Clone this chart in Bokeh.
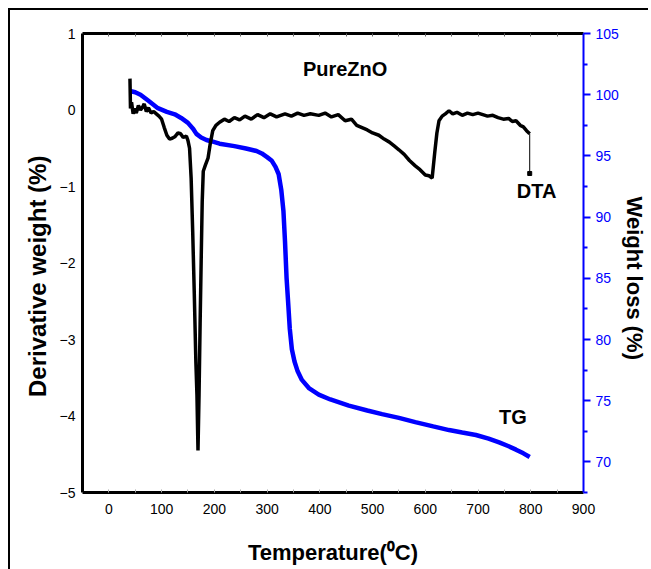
from bokeh.plotting import figure
from bokeh.models import (Range1d, LinearAxis, FixedTicker, Label)
from bokeh.embed import file_html
from bokeh.resources import INLINE

# ---- data ----
dta_temp = [40, 41, 43, 46, 49, 52, 56, 60, 64, 67, 71, 75, 80, 85, 90, 95, 100,
            105, 110, 115, 120, 125, 131, 136, 141, 147, 150, 153, 156, 159, 162,
            165, 167, 169, 171, 173, 175, 177, 179, 183, 188, 192, 197, 203, 210,
            219, 228, 238, 248, 258, 270, 282, 294, 306, 318, 334, 346, 358, 370,
            382, 398, 410, 422, 435, 448, 460, 470, 480, 490, 500, 512, 522, 532,
            541, 550, 560, 570, 581, 590, 600, 607, 613, 618, 622, 626, 632, 638,
            645, 652, 660, 670, 680, 690, 700, 709, 718, 728, 738, 748, 758, 765,
            772, 780, 786, 792, 798]
dta_val = [0.41, 0.02, 0.10, -0.05, 0.02, -0.04, 0.06, 0.0, 0.04, 0.08, -0.02,
           0.03, -0.04, -0.02, -0.05, -0.08, -0.12, -0.23, -0.33, -0.38, -0.37,
           -0.35, -0.30, -0.31, -0.36, -0.34, -0.40, -0.50, -0.89, -1.6, -2.41,
           -3.3, -3.72, -4.45, -3.72, -2.8, -1.98, -1.2, -0.80, -0.72, -0.63,
           -0.45, -0.27, -0.20, -0.16, -0.12, -0.15, -0.10, -0.13, -0.08, -0.12,
           -0.06, -0.10, -0.05, -0.09, -0.05, -0.08, -0.04, -0.07, -0.05, -0.07,
           -0.04, -0.09, -0.06, -0.14, -0.12, -0.20, -0.23, -0.26, -0.30, -0.33,
           -0.38, -0.42, -0.47, -0.52, -0.58, -0.66, -0.73, -0.78, -0.85, -0.86,
           -0.89, -0.55, -0.30, -0.14, -0.08, -0.05, -0.01, -0.05, -0.03, -0.07,
           -0.04, -0.06, -0.04, -0.06, -0.08, -0.07, -0.10, -0.12, -0.11, -0.15,
           -0.14, -0.20, -0.22, -0.27, -0.31]
dta_tail_temp = [798, 798]
dta_tail_val = [-0.31, -0.83]

tg_temp = [40, 50, 60, 75, 93, 110, 125, 137, 150, 160, 166, 175, 185, 194, 210,
           238, 260, 280, 290, 300, 309, 316, 322, 327, 331, 334, 337, 340, 343,
           347, 352, 358, 366, 380, 398, 420, 455, 490, 518, 550, 581, 615, 645,
           670, 696, 720, 740, 757, 772, 786, 798]
tg_val = [100.3, 100.2, 100.0, 99.5, 98.9, 98.6, 98.4, 98.1, 97.7, 97.2, 96.8,
          96.5, 96.3, 96.2, 96.0, 95.8, 95.6, 95.4, 95.2, 94.9, 94.6, 94.1, 93.5,
          92.2, 90.5, 88.0, 85.0, 83.0, 80.9, 79.2, 78.2, 77.4, 76.7, 76.0, 75.5,
          75.1, 74.6, 74.2, 73.9, 73.6, 73.25, 72.9, 72.6, 72.4, 72.2, 71.9, 71.6,
          71.3, 71.0, 70.7, 70.4]

x_ticks = [0, 100, 200, 300, 400, 500, 600, 700, 800, 900]
left_ticks = [-5, -4, -3, -2, -1, 0, 1]
right_ticks = [70, 75, 80, 85, 90, 95, 100, 105]

FONT = "Liberation Sans"
BLUE = "#0000ff"
NBSP = "\u00a0"

p = figure(width=640, height=561, output_backend="svg", toolbar_location=None,
           x_range=Range1d(-50, 900), y_range=Range1d(-5, 1),
           min_border_left=72, min_border_right=67, min_border_top=23,
           min_border_bottom=79)
p.margin = (8, 0, 0, 8)
p.styles = {"border-left": "2px solid black", "border-top": "2px solid black"}
p.xgrid.visible = False
p.ygrid.visible = False
p.outline_line_color = None

# bottom axis
xa = p.xaxis[0]
xa.ticker = FixedTicker(ticks=x_ticks, minor_ticks=[v + 50 for v in [-100] + x_ticks])
xa.axis_line_width = 3
xa.axis_line_color = "black"
xa.major_tick_out = 0
xa.major_tick_in = 3
xa.minor_tick_out = 0
xa.minor_tick_in = 3
xa.major_tick_line_color = "#aaaaaa"
xa.minor_tick_line_color = "#aaaaaa"
xa.major_label_text_font = FONT
xa.major_label_text_font_size = "14px"
xa.major_label_text_color = "black"
xa.major_label_standoff = 11
xa.axis_label = "Temperature(\u2070C)"
xa.axis_label_text_font = FONT
xa.axis_label_text_font_style = "bold"
xa.axis_label_text_font_size = "22px"
xa.axis_label_text_color = "black"
xa.axis_label_standoff = 23

# left axis (trailing nbsp shifts the title down a little)
ya = p.yaxis[0]
ya.ticker = FixedTicker(ticks=left_ticks)
ya.axis_line_width = 3
ya.axis_line_color = "black"
ya.major_tick_out = 0
ya.major_tick_in = 0
ya.minor_tick_out = 0
ya.minor_tick_in = 0
ya.major_label_text_font = FONT
ya.major_label_text_font_size = "14px"
ya.major_label_text_color = "black"
ya.major_label_standoff = 7
ya.axis_label = "Derivative weight (%)" + NBSP * 4
ya.axis_label_text_font = FONT
ya.axis_label_text_font_style = "bold"
ya.axis_label_text_font_size = "24px"
ya.axis_label_text_color = "black"
ya.axis_label_standoff = 6

# top border axis (no labels, only small inward ticks)
ta = LinearAxis(ticker=FixedTicker(ticks=[], minor_ticks=list(range(-50, 901, 50))))
ta.axis_line_width = 3
ta.axis_line_color = "black"
ta.major_tick_out = 0
ta.major_tick_in = 0
ta.minor_tick_out = 0
ta.minor_tick_in = 3
ta.minor_tick_line_color = "#666666"
p.add_layout(ta, "above")

# right axis (leading nbsp shifts the title down a little)
p.extra_y_ranges = {"tg": Range1d(67.5, 105)}
ra = LinearAxis(y_range_name="tg",
                ticker=FixedTicker(ticks=right_ticks,
                                   minor_ticks=[v + 2.5 for v in [65] + right_ticks]))
ra.axis_line_width = 2
ra.axis_line_color = BLUE
ra.major_tick_out = 7
ra.major_tick_in = 0
ra.minor_tick_out = 4
ra.minor_tick_in = 0
ra.major_tick_line_color = BLUE
ra.minor_tick_line_color = BLUE
ra.major_tick_line_width = 2
ra.minor_tick_line_width = 2
ra.major_label_text_font = FONT
ra.major_label_text_font_size = "14px"
ra.major_label_text_color = BLUE
ra.major_label_standoff = 5
ra.axis_label = NBSP * 5 + "Weight loss (%)"
ra.axis_label_text_font = FONT
ra.axis_label_text_font_style = "bold"
ra.axis_label_text_font_size = "22px"
ra.axis_label_text_color = "black"
ra.axis_label_standoff = 0
p.add_layout(ra, "right")

# series
p.line(tg_temp, tg_val, y_range_name="tg", line_color=BLUE, line_width=4.5)
p.line(dta_temp, dta_val, line_color="black", line_width=3.5)
p.line(dta_tail_temp, dta_tail_val, line_color="black", line_width=1)
p.scatter(dta_tail_temp[-1:], dta_tail_val[-1:], marker="square", size=4,
          color="black")

# text labels inside the plot
for txt, x, y in [("PureZnO", 448, 0.54), ("DTA", 811, -1.06), ("TG", 766, -4.01)]:
    p.add_layout(Label(x=x, y=y, text=txt, text_font=FONT, text_font_style="bold",
                       text_font_size="20px", text_align="center",
                       text_baseline="middle", text_color="black"))

open("out.html", "w").write(file_html(p, INLINE))
